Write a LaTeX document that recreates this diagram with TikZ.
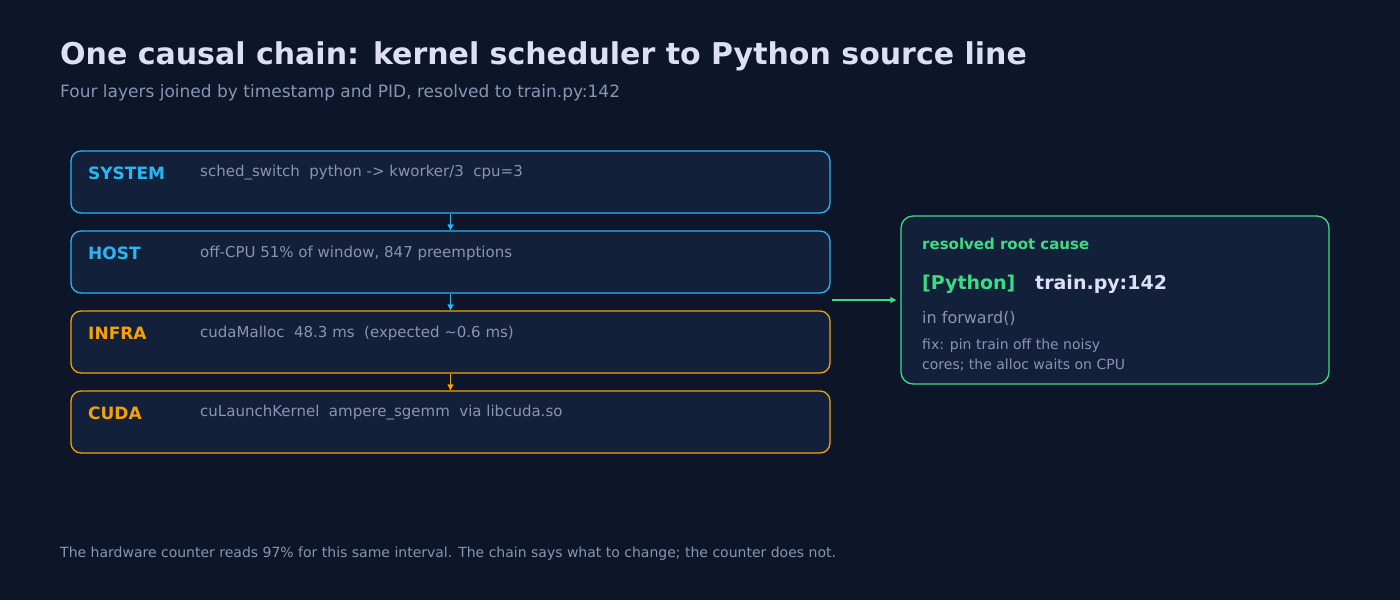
\documentclass[tikz,border=0pt]{standalone}
\usepackage{fontspec}
\setmainfont{DejaVu Sans}
\usetikzlibrary{arrows.meta}
\definecolor{bgc}{HTML}{0C1628}
\definecolor{boxc}{HTML}{132039}
\definecolor{sysc}{HTML}{29B6F6}
\definecolor{infc}{HTML}{F5A00B}
\definecolor{okc}{HTML}{3DDC84}
\definecolor{mutec}{HTML}{8A93B5}
\definecolor{headc}{HTML}{DDE0F5}
\tikzset{
  layer/.style={draw=#1,fill=boxc,line width=1.3pt,rounded corners=10pt,minimum width=759pt,minimum height=62pt,inner sep=0pt},
  tag/.style={anchor=west,inner sep=0pt,text=#1,font=\fontsize{17}{20}\selectfont\bfseries},
  info/.style={anchor=west,inner sep=0pt,text=mutec,font=\fontsize{15}{18}\selectfont},
  link/.style={draw=#1,line width=1.3pt,-{Triangle[length=6pt,width=6pt]}}
}
\begin{document}
\begin{tikzpicture}[x=1pt,y=-1pt]
  \fill[bgc] (0,0) rectangle (1400,600);
  \useasboundingbox (0,0) rectangle (1400,600);

  \node[anchor=west,inner sep=0pt,text=headc,font=\fontsize{30}{34}\selectfont\bfseries] (title) at (60,56) {One causal chain: kernel scheduler to Python source line};
  \node[anchor=west,inner sep=0pt,text=mutec,font=\fontsize{17}{20}\selectfont] (sub) at (60,93) {Four layers joined by timestamp and PID, resolved to train.py:142};

  \node[layer=sysc] (sys) at (450.5,182) {};
  \node[layer=sysc] (host) at (450.5,262) {};
  \node[layer=infc] (infra) at (450.5,342) {};
  \node[layer=infc] (cuda) at (450.5,422) {};

  \node[tag=sysc] (tsys) at (88,173) {SYSTEM};
  \node[info] (isys) at (200,173) {sched\_switch\ \ python -> kworker/3\ \ cpu=3};
  \node[tag=sysc] (thost) at (88,253) {HOST};
  \node[info] (ihost) at (200,253) {off-CPU 51\% of window, 847 preemptions};
  \node[tag=infc] (tinfra) at (88,333) {INFRA};
  \node[info] (iinfra) at (200,333) {cudaMalloc\ \ 48.3 ms\ \ (expected \textasciitilde0.6 ms)};
  \node[tag=infc] (tcuda) at (88,413) {CUDA};
  \node[info] (icuda) at (200,413) {cuLaunchKernel\ \ ampere\_sgemm\ \ via libcuda.so};

  \draw[link=sysc] (sys.south) -- (host.north);
  \draw[link=sysc] (host.south) -- (infra.north);
  \draw[link=infc] (infra.south) -- (cuda.north);

  \node[draw=okc,fill=boxc,line width=1.3pt,rounded corners=12pt,minimum width=428pt,minimum height=168pt,inner sep=0pt] (root) at (1115,300) {};
  \node[anchor=west,inner sep=0pt,text=okc,font=\fontsize{15}{18}\selectfont\bfseries] (rhead) at (922,244) {resolved root cause};
  \node[anchor=west,inner sep=0pt,text=okc,font=\fontsize{19}{22}\selectfont\bfseries] (rlang) at (922,284) {[Python]};
  \node[anchor=west,inner sep=0pt,text=headc,font=\fontsize{19}{22}\selectfont\bfseries] (rline) at (1035,284) {train.py:142};
  \node[anchor=west,inner sep=0pt,text=mutec,font=\fontsize{16}{19}\selectfont] (rfunc) at (922,318) {in forward()};
  \node[anchor=north west,inner sep=0pt,text=mutec,align=left,font=\fontsize{14}{20}\selectfont] (rfix) at (922,339) {fix: pin train off the noisy\\cores; the alloc waits on CPU};

  \coordinate (gsrc) at (832,300);
  \draw[link=okc] (gsrc) -- ([xshift=-4pt]root.west);

  \node[anchor=west,inner sep=0pt,text=mutec,font=\fontsize{14}{17}\selectfont] (foot) at (60,554) {The hardware counter reads 97\% for this same interval. The chain says what to change; the counter does not.};
\end{tikzpicture}
\end{document}
